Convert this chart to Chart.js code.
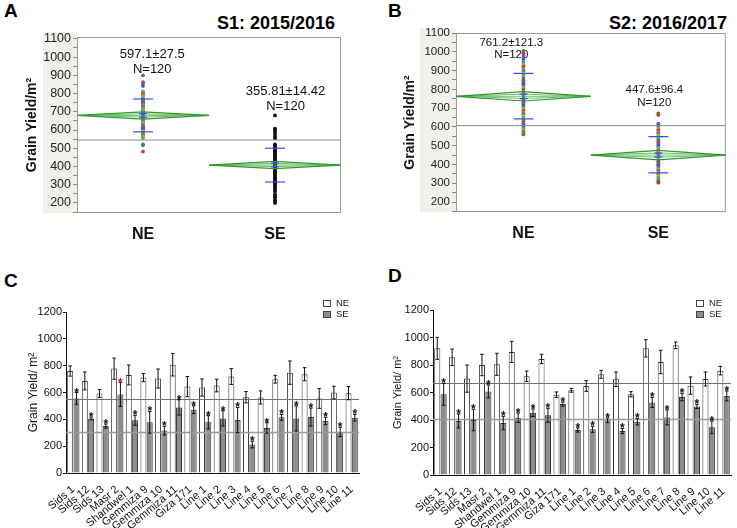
<!DOCTYPE html>
<html>
<head>
<meta charset="utf-8">
<script src="https://cdn.jsdelivr.net/npm/chart.js@4.4.1/dist/chart.umd.min.js"></script>
<style>
  body { margin: 0; background: #fff; font-family: "Liberation Sans", Arial, sans-serif; }
  #page { position: relative; width: 737px; height: 528px; overflow: hidden; }
  .wrap { position: absolute; }
  .letter { position: absolute; font-weight: bold; font-size: 19px; line-height: 1; color: #000; }
  .title { position: absolute; font-weight: bold; font-size: 18px; line-height: 1; text-align: right; color: #000; }
  .legend { position: absolute; font-size: 9.5px; line-height: 11px; color: #222; }
  .legend i { display: inline-block; width: 6px; height: 5px; border: 1px solid #444; margin-right: 5px; vertical-align: -1px; }
</style>
</head>
<body>
<div id="page">
  <div class="letter" style="left:4px;top:1px">A</div>
  <div class="title" style="left:150px;top:14px;width:185px">S1: 2015/2016</div>
  <div class="letter" style="left:388px;top:1px">B</div>
  <div class="title" style="left:540px;top:14px;width:187px">S2: 2016/2017</div>
  <div class="letter" style="left:4px;top:271px">C</div>
  <div class="letter" style="left:388px;top:266px">D</div>

  <div class="wrap" style="left:0;top:0;width:370px;height:240px"><canvas id="chartA"></canvas></div>
  <div class="wrap" style="left:370px;top:0;width:367px;height:240px"><canvas id="chartB"></canvas></div>
  <div class="wrap" style="left:0;top:290px;width:370px;height:238px"><canvas id="chartC"></canvas></div>
  <div class="wrap" style="left:370px;top:290px;width:367px;height:238px"><canvas id="chartD"></canvas></div>

  <div class="legend" style="left:323px;top:297px"><i style="background:#fff"></i>NE<br><i style="background:#8d8d8d"></i>SE</div>
  <div class="legend" style="left:696px;top:297px"><i style="background:#fff"></i>NE<br><i style="background:#8d8d8d"></i>SE</div>
</div>

<script>
const groups = ['NE', 'SE'];

// panel A, S1 2015/2016 single plant yields
const s1NE = [900, 862, 856, 842, 812, 806, 799, 794, 787, 781, 774, 769, 764, 757, 752, 745, 741, 734, 729, 724, 717, 712, 705, 701, 694, 688, 683, 676, 671, 664, 659, 652, 647, 640, 635, 628, 622, 615, 611, 604, 597, 592, 584, 577, 570, 563, 556, 523, 517, 482];
const s1SE = [680, 608, 600, 591, 580, 566, 555, 521, 514, 508, 503, 496, 489, 483, 477, 470, 463, 457, 451, 444, 438, 431, 425, 418, 412, 406, 399, 393, 387, 381, 374, 368, 362, 355, 349, 342, 336, 330, 323, 318, 311, 305, 298, 290, 281, 272, 262, 245, 236, 228, 215, 208, 200];
const s1Mean = [680, 408];
const s1Half = [20, 20];
const s1SdUp = [770, 500];
const s1SdLow = [590, 315];
const s1Se = [10, 10];
const s1Grand = 545;
const s1Text = [['597.1±27.5', 'N=120'], ['355.81±14.42', 'N=120']];

// panel B, S2 2016/2017
const s2NE = [1005, 992, 978, 961, 946, 931, 920, 908, 897, 886, 876, 866, 855, 846, 835, 826, 815, 806, 797, 787, 777, 768, 758, 749, 740, 731, 722, 712, 703, 694, 685, 676, 667, 657, 648, 638, 629, 620, 611, 602, 592, 583, 574, 566, 560];
const s2SE = [672, 664, 618, 609, 600, 591, 582, 572, 563, 554, 545, 536, 527, 518, 509, 500, 491, 482, 473, 464, 455, 446, 437, 428, 419, 410, 401, 392, 383, 374, 365, 356, 347, 338, 329, 320, 311, 303];
const s2Mean = [763, 450];
const s2Half = [25, 25];
const s2SdUp = [885, 548];
const s2SdLow = [643, 355];
const s2Se = [12, 10];
const s2Grand = 607;
const s2Text = [['761.2±121.3', 'N=120'], ['447.6±96.4', 'N=120']];

// panels C and D, genotype means
const genotypes = ['Sids 1', 'Sids 12', 'Sids 13', 'Masr 2', 'Shandwel 1', 'Gemmiza 9', 'Gemmiza 10', 'Gemmiza 11', 'Giza 171',
  'Line 1', 'Line 2', 'Line 3', 'Line 4', 'Line 5', 'Line 6', 'Line 7', 'Line 8', 'Line 9', 'Line 10', 'Line 11'];

const cNE    = [760, 686, 593, 778, 731, 711, 704, 807, 644, 637, 652, 719, 565, 563, 699, 748, 736, 556, 600, 595];
const cNEerr = [38, 67, 29, 79, 74, 30, 71, 84, 75, 64, 47, 59, 42, 49, 29, 87, 49, 74, 47, 49];
const cSE    = [556, 407, 350, 585, 393, 378, 316, 489, 472, 378, 407, 395, 212, 336, 415, 407, 417, 388, 306, 412];
const cSEerr = [44, 10, 15, 89, 37, 81, 32, 57, 29, 49, 57, 94, 25, 39, 22, 94, 67, 27, 35, 25];
const cMeans = [553, 309];

const dNE    = [921, 856, 701, 800, 805, 895, 718, 844, 584, 616, 647, 732, 696, 587, 921, 822, 943, 650, 698, 759];
const dNEerr = [80, 60, 99, 78, 80, 77, 38, 34, 20, 14, 39, 29, 53, 19, 63, 85, 24, 63, 51, 31];
const dSE    = [587, 393, 400, 608, 378, 417, 453, 434, 516, 327, 332, 398, 320, 388, 528, 419, 567, 499, 347, 575];
const dSEerr = [80, 51, 78, 47, 49, 34, 27, 51, 15, 15, 22, 17, 19, 24, 37, 54, 27, 15, 46, 36];
const dMeans = [667, 405];

const yTicks = [0, 200, 400, 600, 800, 1000, 1200];
const redStarC = ['Masr 2'];

const FONT = '"Liberation Sans", Arial, sans-serif';
const palette = ['#2e8b3e', '#d9302c', '#8e44c9', '#2456d8', '#19a9b8', '#f08a1c', '#7b5a3a', '#d65fb8', '#5f7f2f', '#c4b81c', '#39b54a', '#6a8ed8'];
Chart.defaults.font.family = FONT;
Chart.defaults.color = '#111';

function boxPlugin(bgWidth) {
  return {
    id: 'box',
    beforeDraw(chart) {
      const { ctx, chartArea: a } = chart;
      ctx.save();
      ctx.fillStyle = '#f1f1ec';
      ctx.fillRect(a.left - bgWidth, a.top - 5, bgWidth, a.bottom - a.top + 5);
      ctx.restore();
    },
    beforeDatasetsDraw(chart) {
      const { ctx, chartArea: a } = chart;
      ctx.save();
      ctx.strokeStyle = '#9a9a9a';
      ctx.lineWidth = 1;
      ctx.strokeRect(a.left + 0.5, a.top + 0.5, a.right - a.left - 1, a.bottom - a.top - 1);
      ctx.restore();
    }
  };
}

function notePlugin(texts, pos, size) {
  return {
    id: 'notes',
    beforeDatasetsDraw(chart) {
      const { ctx, scales: { x, y } } = chart;
      ctx.save();
      ctx.font = size + 'px ' + FONT;
      ctx.fillStyle = '#111';
      ctx.textAlign = 'center';
      ctx.textBaseline = 'middle';
      texts.forEach((lines, i) => {
        lines.forEach((t, j) => ctx.fillText(t, x.getPixelForValue(pos[i].x), y.getPixelForValue(pos[i].y[j])));
      });
      ctx.restore();
    }
  };
}

function dotChart(id, d) {
  const sets = [];
  sets.push({ data: [{ x: 0, y: d.grand }, { x: 2, y: d.grand }], showLine: true, borderColor: '#8a8a8a', borderWidth: 1, pointRadius: 0, order: 2 });
  groups.forEach((g, i) => {
    const c = i + 0.5, m = d.mean[i], h = d.half[i];
    sets.push({ data: [{ x: c - 0.5, y: m }, { x: c, y: m + h }, { x: c + 0.5, y: m }, { x: c, y: m - h }, { x: c - 0.5, y: m }],
      showLine: true, borderColor: '#2f9a2b', borderWidth: 1.2, pointRadius: 0, order: 1 });
    sets.push({ data: [{ x: c - 0.5, y: m }, { x: c, y: m + h * 0.45 }, { x: c + 0.5, y: m }, { x: c, y: m - h * 0.45 }, { x: c - 0.5, y: m }],
      showLine: true, borderColor: '#5fb85a', borderWidth: 0.9, pointRadius: 0, order: 1 });
    sets.push({ data: [{ x: c - 0.5, y: m }, { x: c + 0.5, y: m }], showLine: true, borderColor: '#4fae4a', borderWidth: 0.8, pointRadius: 0, order: 1 });
    sets.push({ data: d.dots[i].map(v => ({ x: c, y: v })), pointRadius: 1.9, pointBorderWidth: 0,
      pointBackgroundColor: d.dots[i].map((v, k) => d.black[i] ? '#111' : palette[k % palette.length]), order: 3 });
    sets.push({ data: [{ x: c, y: d.sdUp[i] }, { x: c, y: d.sdLow[i] }], pointStyle: 'line', pointRadius: 10,
      pointBorderColor: '#3d4ff0', pointBorderWidth: 1.2, order: 0 });
    sets.push({ data: [{ x: c, y: m - d.se[i] }, { x: c, y: m + d.se[i] }], showLine: true, borderColor: '#3d4ff0', borderWidth: 1.2,
      pointStyle: 'line', pointRadius: 4, pointBorderColor: '#3d4ff0', pointBorderWidth: 1.2, order: 0 });
  });

  new Chart(document.getElementById(id), {
    type: 'scatter',
    data: { datasets: sets },
    options: {
      responsive: true, maintainAspectRatio: false, animation: false,
      layout: { padding: d.pad },
      plugins: { legend: { display: false }, tooltip: { enabled: false } },
      scales: {
        x: {
          type: 'linear', min: 0, max: 2,
          afterBuildTicks: s => { s.ticks = [{ value: 0.5 }, { value: 1.5 }]; },
          afterFit: s => { s.height = d.xHeight; },
          grid: { display: false }, border: { display: false },
          ticks: { callback: v => groups[Math.round(v - 0.5)], font: { size: 16, weight: 'bold' }, color: '#111', padding: 4 }
        },
        y: {
          min: d.yMin, max: d.yMax,
          afterFit: s => { s.width = d.yWidth; },
          grid: { drawOnChartArea: false, tickLength: 4, color: '#888' }, border: { display: false },
          ticks: { stepSize: 50, includeBounds: false, autoSkip: false, padding: 2, font: { size: d.tickSize }, color: '#222',
            callback: v => (v % 100 === 0 ? String(v) : '') },
          title: { display: true, text: 'Grain Yield/m²', font: { size: 14, weight: 'bold' }, color: '#111' }
        }
      }
    },
    plugins: [boxPlugin(d.bgWidth), notePlugin(d.text, d.textPos, d.textSize)]
  });
}

dotChart('chartA', {
  dots: [s1NE, s1SE], black: [false, true], mean: s1Mean, half: s1Half, sdUp: s1SdUp, sdLow: s1SdLow, se: s1Se, grand: s1Grand,
  text: s1Text, textPos: [{ x: 0.57, y: [1014, 931] }, { x: 1.58, y: [810, 728] }], textSize: 13,
  yMin: 145, yMax: 1110, pad: { left: 20, right: 29, top: 37, bottom: 0 }, yWidth: 57, xHeight: 27, tickSize: 12.5, bgWidth: 34
});

dotChart('chartB', {
  dots: [s2NE, s2SE], black: [false, false], mean: s2Mean, half: s2Half, sdUp: s2SdUp, sdLow: s2SdLow, se: s2Se, grand: s2Grand,
  text: s2Text, textPos: [{ x: 0.41, y: [1047, 983] }, { x: 1.47, y: [797, 728] }], textSize: 11.5,
  yMin: 147, yMax: 1100, pad: { left: 28, right: 5, top: 33, bottom: 0 }, yWidth: 58, xHeight: 28, tickSize: 11.5, bgWidth: 36
});

const barExtras = {
  id: 'barExtras',
  afterDatasetsDraw(chart, args, opts) {
    const { ctx, scales: { x, y }, chartArea: a } = chart;
    ctx.save();
    // grand mean lines
    opts.means.forEach((m, k) => {
      const py = Math.round(y.getPixelForValue(m)) + 0.5;
      ctx.strokeStyle = k === 0 ? '#707070' : '#9a9a9a';
      ctx.lineWidth = k === 0 ? 1 : 1.3;
      ctx.beginPath(); ctx.moveTo(a.left, py); ctx.lineTo(a.right, py); ctx.stroke();
    });
    chart.data.datasets.forEach((ds, di) => {
      const meta = chart.getDatasetMeta(di);
      meta.data.forEach((bar, i) => {
        const v = ds.data[i], e = ds.err[i];
        const top = y.getPixelForValue(v + e), bot = y.getPixelForValue(v - e);
        const cap = 1.8;
        ctx.strokeStyle = '#111';
        ctx.lineWidth = 1;
        ctx.beginPath();
        ctx.moveTo(bar.x, top); ctx.lineTo(bar.x, bot);
        ctx.moveTo(bar.x - cap, top); ctx.lineTo(bar.x + cap, top);
        ctx.moveTo(bar.x - cap, bot); ctx.lineTo(bar.x + cap, bot);
        ctx.stroke();
        if (ds.star) {
          ctx.font = 'bold 12px ' + FONT;
          ctx.textAlign = 'center';
          ctx.textBaseline = 'alphabetic';
          ctx.fillStyle = opts.red.includes(genotypes[i]) ? '#c0262a' : '#111';
          ctx.fillText('*', bar.x, top + 4);
        }
      });
    });
    ctx.restore();
  }
};

function barChart(id, d) {
  new Chart(document.getElementById(id), {
    type: 'bar',
    data: {
      labels: genotypes,
      datasets: [
        { label: 'NE', data: d.ne, err: d.neErr, backgroundColor: '#ffffff', borderColor: '#3a3a3a', borderWidth: 1, borderSkipped: 'bottom' },
        { label: 'SE', data: d.se, err: d.seErr, star: true, backgroundColor: '#8d8d8d', borderColor: '#333', borderWidth: 1, borderSkipped: 'bottom' }
      ]
    },
    options: {
      responsive: true, maintainAspectRatio: false, animation: false,
      categoryPercentage: 0.86, barPercentage: 0.95,
      layout: { padding: d.pad },
      plugins: { legend: { display: false }, tooltip: { enabled: false }, barExtras: { means: d.means, red: d.red } },
      scales: {
        x: {
          afterFit: s => { s.height = d.xHeight; },
          grid: { display: false }, border: { display: true, color: '#111', width: 1 },
          ticks: { autoSkip: false, minRotation: 40, maxRotation: 40, padding: 2, font: { size: 11 }, color: '#111' }
        },
        y: {
          min: 0, max: 1200,
          afterFit: s => { s.width = d.yWidth; },
          afterBuildTicks: s => { s.ticks = yTicks.map(v => ({ value: v })); },
          grid: { drawOnChartArea: false, tickLength: 3, color: '#111' }, border: { display: true, color: '#111', width: 1 },
          ticks: { padding: 1, font: { size: 11 }, color: '#111', callback: v => String(v) },
          title: { display: true, text: 'Grain Yield/ m²', font: { size: d.titleSize }, color: '#111' }
        }
      }
    },
    plugins: [barExtras]
  });
}

barChart('chartC', {
  ne: cNE, neErr: cNEerr, se: cSE, seErr: cSEerr, means: cMeans, red: redStarC,
  pad: { left: 22, right: 11, top: 22, bottom: 0 }, yWidth: 44, xHeight: 55, titleSize: 12
});

barChart('chartD', {
  ne: dNE, neErr: dNEerr, se: dSE, seErr: dSEerr, means: dMeans, red: [],
  pad: { left: 17, right: 6, top: 20, bottom: 0 }, yWidth: 46, xHeight: 53, titleSize: 11
});
</script>
</body>
</html>
